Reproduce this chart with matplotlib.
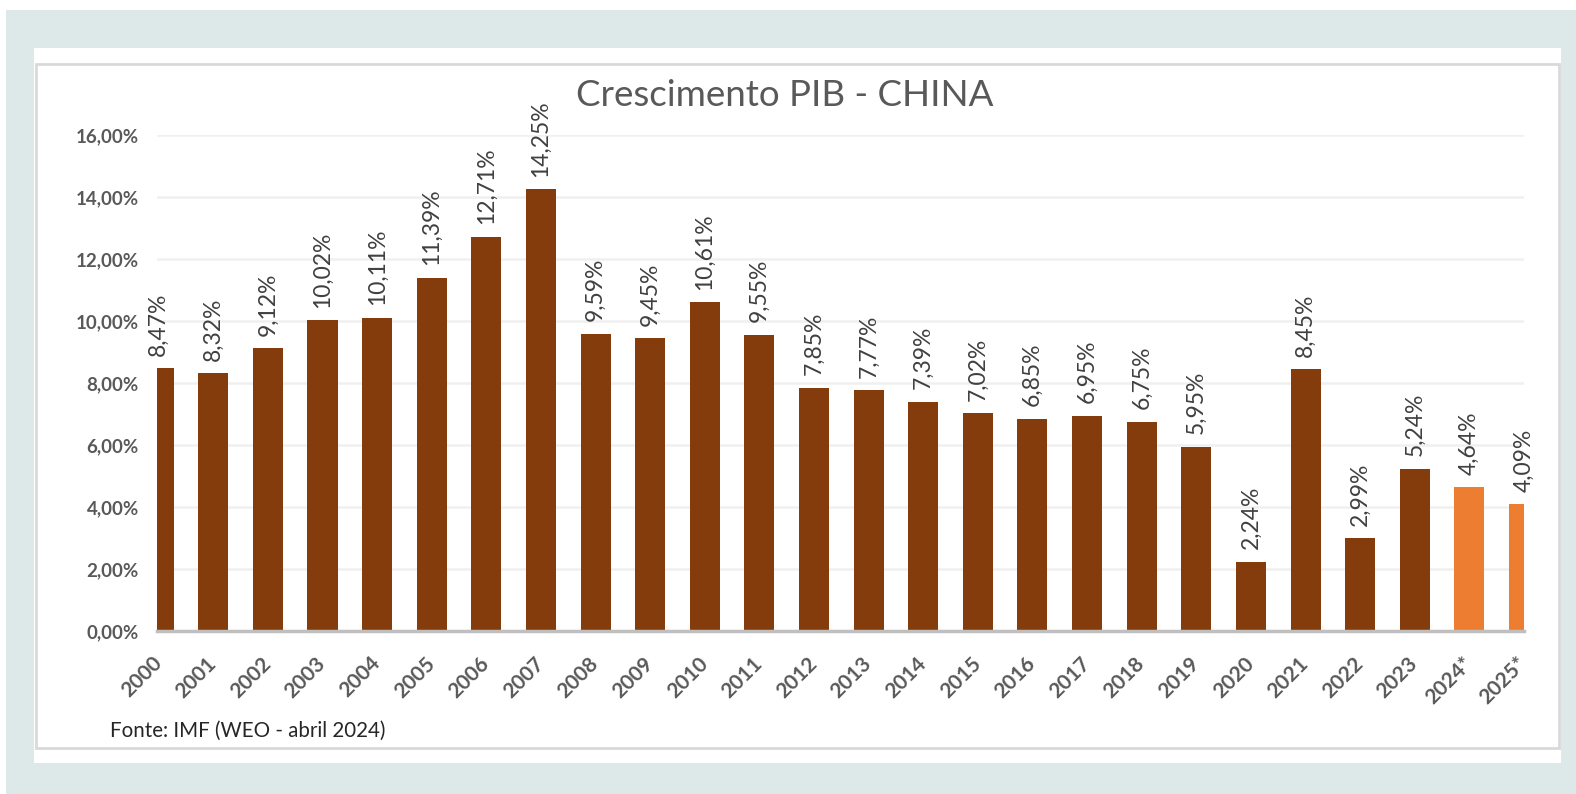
import matplotlib.pyplot as plt
from matplotlib.patches import Rectangle

plt.rcParams['font.family'] = ['Lato', 'DejaVu Sans']

years = ["2000", "2001", "2002", "2003", "2004", "2005", "2006", "2007", "2008",
         "2009", "2010", "2011", "2012", "2013", "2014", "2015", "2016", "2017",
         "2018", "2019", "2020", "2021", "2022", "2023", "2024*", "2025*"]
growth = [8.47, 8.32, 9.12, 10.02, 10.11, 11.39, 12.71, 14.25, 9.59, 9.45, 10.61,
          9.55, 7.85, 7.77, 7.39, 7.02, 6.85, 6.95, 6.75, 5.95, 2.24, 8.45, 2.99,
          5.24, 4.64, 4.09]
projected = [False] * 24 + [True, True]
y_ticks = [0, 2, 4, 6, 8, 10, 12, 14, 16]

W, H = 1576, 794
fig = plt.figure(figsize=(W / 100, H / 100), dpi=100)
fig.patch.set_facecolor('white')

# background frames (pixel coords -> figure fraction)
def frame(x0, y0, x1, y1, **kw):
    fig.patches.append(Rectangle((x0 / W, 1 - y1 / H), (x1 - x0) / W, (y1 - y0) / H,
                                 transform=fig.transFigure, **kw))

frame(6, 10, W, H, facecolor='#dde8e9', edgecolor='none', zorder=-3)
frame(34, 48, 1561, 763, facecolor='white', edgecolor='none', zorder=-2)
frame(36, 64, 1559, 748, facecolor='white', edgecolor='#d9d9d9', linewidth=2, zorder=-1)

left, right, top, bottom = 157, 1524, 135, 631
ax = fig.add_axes([left / W, 1 - bottom / H, (right - left) / W, (bottom - top) / H])
ax.set_facecolor('none')

x = list(range(len(years)))
colors = ['#ed7d31' if p else '#843c0c' for p in projected]
ax.bar(x, growth, width=0.55, color=colors, zorder=2)

for xi, v in zip(x, growth):
    ax.annotate(f"{v:.2f}%".replace('.', ','), (xi, v), xytext=(0, 9),
                textcoords='offset points', rotation=90, ha='center', va='bottom',
                fontsize=16.5, color='#404040', clip_on=False)

ax.set_xlim(-0.03, 25.0)
ax.set_ylim(0, 16)
ax.set_yticks(y_ticks)
ax.set_yticklabels([f"{t:.2f}%".replace('.', ',') for t in y_ticks],
                   fontsize=13.5, fontweight='bold', color='#595959')
ax.set_xticks(x)
ax.set_xticklabels(years, rotation=45, ha='right', va='center', rotation_mode='anchor',
                   fontsize=15, fontweight='bold', color='#595959')
ax.tick_params(length=0, axis='both')
ax.tick_params(axis='y', pad=13)
ax.tick_params(axis='x', pad=21)
ax.grid(axis='y', color='#f0f0f0', linewidth=1.8, zorder=0)
for s in ['top', 'right', 'left']:
    ax.spines[s].set_visible(False)
ax.spines['bottom'].set_color('#bfbfbf')
ax.spines['bottom'].set_linewidth(2.5)
ax.spines['bottom'].set_zorder(3)

fig.text(785 / W, 1 - 95 / H, "Crescimento PIB - CHINA", ha='center', va='center',
         fontsize=26.5, color='#595959')
fig.text(110 / W, 1 - 731 / H, "Fonte: IMF (WEO - abril 2024)", ha='left', va='center',
         fontsize=14.8, color='#262626')

fig.savefig('out.png', dpi=100)
